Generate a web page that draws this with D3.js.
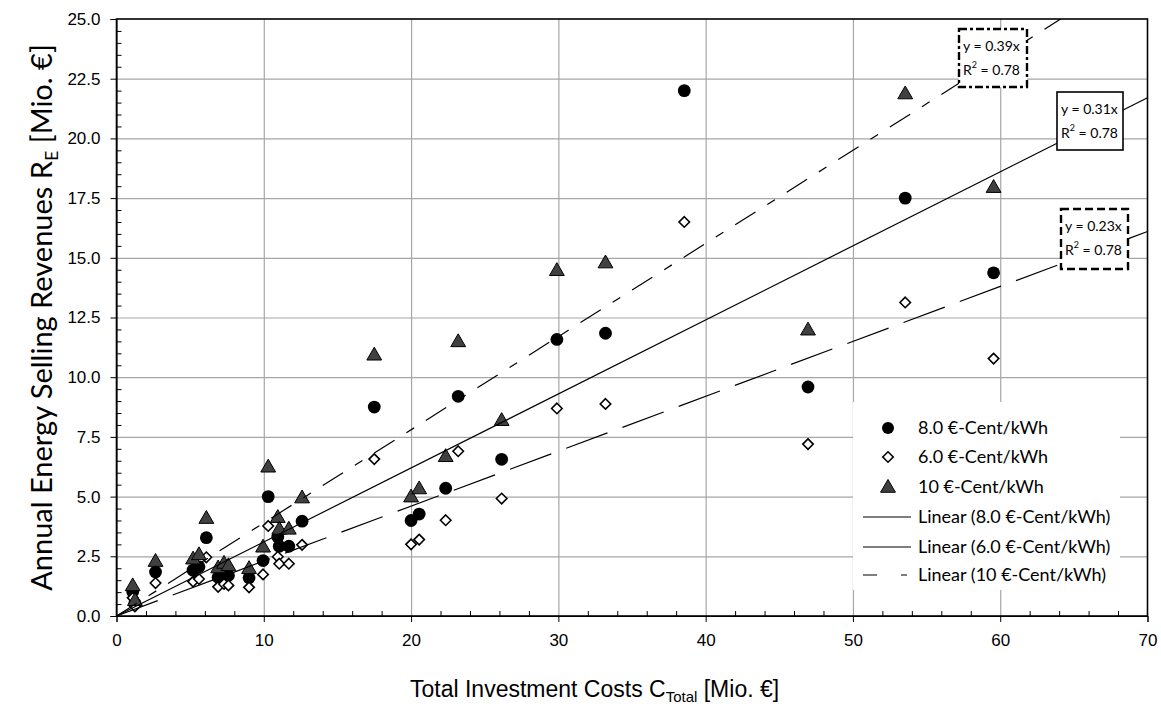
<!DOCTYPE html>
<html>
<head>
<meta charset="utf-8">
<script src="https://cdn.jsdelivr.net/npm/d3@7"></script>
<style>
  body { margin: 0; background: #fff; }
  svg { display: block; }
</style>
</head>
<body>
<script>
// data ___________________________________________________________________________________
var costs = [1.1, 1.25, 2.65, 5.2, 5.6, 6.1, 6.9, 7.3, 7.6, 9.0, 9.95, 10.3, 10.95, 11.05, 11.7, 12.6,
             17.5, 20.0, 20.55, 22.35, 23.2, 26.15, 29.9, 33.2, 38.55, 46.95, 53.55, 59.55];
var rev8  = [1.02, 0.53, 1.84, 1.92, 2.06, 3.28, 1.62, 1.78, 1.7, 1.6, 2.32, 5.0, 3.31, 2.92, 2.92, 3.97,
             8.75, 4.0, 4.27, 5.35, 9.2, 6.56, 11.58, 11.84, 22.0, 9.59, 17.5, 14.37];
var rev6  = [0.76, 0.4, 1.38, 1.44, 1.55, 2.46, 1.22, 1.34, 1.28, 1.2, 1.74, 3.77, 2.48, 2.19, 2.19, 2.98,
             6.57, 3.0, 3.2, 4.01, 6.9, 4.92, 8.69, 8.88, 16.5, 7.2, 13.13, 10.78];
var rev10 = [1.28, 0.66, 2.3, 2.4, 2.58, 4.1, 2.03, 2.22, 2.12, 2.0, 2.9, 6.25, 4.14, 3.65, 3.65, 4.96,
             10.94, 5.0, 5.34, 6.69, 11.5, 8.2, 14.48, 14.8, null, 11.99, 21.88, 17.96];

var seriesNames = ["8.0 €-Cent/kWh", "6.0 €-Cent/kWh", "10 €-Cent/kWh"];
var slopes = [0.31, 0.23, 0.39];
var rSquared = [0.78, 0.78, 0.78];

var xTicks = [0, 10, 20, 30, 40, 50, 60, 70];
var yTicks = [0, 2.5, 5, 7.5, 10, 12.5, 15, 17.5, 20, 22.5, 25];

var ARIAL = "'Liberation Sans', Arial, sans-serif";
var CALIBRI = "Lato, sans-serif";

//Layout__________________________________________________________________________________
var margin = {top: 19, right: 13.5, bottom: 90, left: 116.5};
var W = 1161, H = 706;
var width = W - margin.left - margin.right;
var height = H - margin.top - margin.bottom;

var svg = d3.select("body").append("svg")
    .attr("width", W)
    .attr("height", H);

var g = svg.append("g")
    .attr("transform", "translate(" + margin.left + "," + margin.top + ")");

var x = d3.scaleLinear().domain([0, 70]).range([0, width]);
var y = d3.scaleLinear().domain([0, 25]).range([height, 0]);

svg.append("defs").append("clipPath").attr("id", "plotclip")
    .append("rect").attr("width", width).attr("height", height);

//Grid____________________________________________________________________________________
g.append("g")
    .attr("class", "grid")
    .call(d3.axisLeft(y).tickValues(yTicks.slice(1, -1)).tickSize(-width).tickFormat(""))
    .call(s => s.select(".domain").remove())
    .selectAll("line").attr("stroke", "#a6a6a6").attr("stroke-width", 1.2);

g.append("g")
    .attr("class", "grid")
    .attr("transform", "translate(0," + height + ")")
    .call(d3.axisBottom(x).tickValues(xTicks.slice(1, -1)).tickSize(-height).tickFormat(""))
    .call(s => s.select(".domain").remove())
    .selectAll("line").attr("stroke", "#a6a6a6").attr("stroke-width", 1.2);

//Markers_________________________________________________________________________________
function pts(vals) {
    return costs.map((c, i) => ({x: c, y: vals[i]})).filter(d => d.y != null);
}

var diamond = d3.symbol().type(d3.symbolDiamond2).size(70);
var triangle = d3.symbol().type(d3.symbolTriangle).size(95);

var markers = g.append("g").attr("clip-path", "url(#plotclip)");

markers.selectAll("circle.s8").data(pts(rev8)).enter()
    .append("circle")
    .attr("class", "s8")
    .attr("cx", d => x(d.x))
    .attr("cy", d => y(d.y))
    .attr("r", 6.4)
    .attr("fill", "#000");

markers.selectAll("path.s6").data(pts(rev6)).enter()
    .append("path")
    .attr("class", "s6")
    .attr("d", diamond)
    .attr("transform", d => "translate(" + x(d.x) + "," + y(d.y) + ")")
    .attr("fill", "#fff")
    .attr("stroke", "#000")
    .attr("stroke-width", 1.6);

markers.selectAll("path.s10").data(pts(rev10)).enter()
    .append("path")
    .attr("class", "s10")
    .attr("d", triangle)
    .attr("transform", d => "translate(" + x(d.x) + "," + (y(d.y) + 1) + ")")
    .attr("fill", "#404040")
    .attr("stroke", "#000")
    .attr("stroke-width", 1);

//Trend lines (through origin)______________________________________________________________
var dashes = [null, "44,16", "24,14,9,14"];
var line = d3.line().x(d => x(d[0])).y(d => y(d[1]));

slopes.forEach((k, i) => {
    g.append("path")
        .attr("clip-path", "url(#plotclip)")
        .attr("d", line([[0, 0], [70, 70 * k]]))
        .attr("fill", "none")
        .attr("stroke", "#000")
        .attr("stroke-width", 1.2)
        .attr("stroke-dasharray", dashes[i]);
});

//Axes_____________________________________________________________________________________
var xAxis = g.append("g")
    .attr("transform", "translate(0," + height + ")")
    .call(d3.axisBottom(x).tickValues(xTicks).tickSize(6).tickPadding(12).tickFormat(d3.format("d")));
xAxis.selectAll("text").style("font-family", ARIAL).style("font-size", "17px").attr("fill", "#000");

g.append("g")
    .attr("transform", "translate(0," + height + ")")
    .call(d3.axisBottom(x).tickValues(d3.range(2, 70, 2).filter(v => v % 10)).tickSize(-5).tickFormat(""))
    .call(s => s.select(".domain").remove());

var yAxis = g.append("g")
    .call(d3.axisLeft(y).tickValues(yTicks).tickSize(6).tickPadding(10).tickFormat(d3.format(".1f")));
yAxis.selectAll("text").style("font-family", ARIAL).style("font-size", "17px").attr("fill", "#000");

g.append("g")
    .call(d3.axisLeft(y).tickValues(d3.range(0.5, 25, 0.5).filter(v => v % 2.5)).tickSize(-5).tickFormat(""))
    .call(s => s.select(".domain").remove());

g.selectAll(".tick line").attr("stroke", "#000");
g.selectAll(".grid .tick line").attr("stroke", "#a6a6a6");

// frame
g.append("rect")
    .attr("width", width)
    .attr("height", height)
    .attr("fill", "none")
    .attr("stroke", "#000")
    .attr("stroke-width", 1.6);

//Equation boxes___________________________________________________________________________
var boxes = [
    {x: 1057, y: 92, w: 66, h: 58, dash: null, sw: 1.6},
    {x: 1061, y: 209, w: 67, h: 60, dash: "8,4", sw: 2.4},
    {x: 959, y: 29, w: 68, h: 58, dash: "8,3,3,3", sw: 2.4}
];

boxes.forEach((b, i) => {
    var bg = svg.append("g");
    bg.append("rect")
        .attr("x", b.x).attr("y", b.y).attr("width", b.w).attr("height", b.h)
        .attr("fill", "#fff")
        .attr("stroke", "#000")
        .attr("stroke-width", b.sw)
        .attr("stroke-dasharray", b.dash);
    bg.append("text")
        .attr("x", b.x + 4).attr("y", b.y + 22)
        .style("font-family", CALIBRI).style("font-size", "14px")
        .text("y = " + slopes[i].toFixed(2) + "x");
    var t = bg.append("text")
        .attr("x", b.x + 4).attr("y", b.y + 46)
        .style("font-family", CALIBRI).style("font-size", "14px");
    t.append("tspan").text("R");
    t.append("tspan").style("font-size", "9px").attr("dy", -7).text("2");
    t.append("tspan").attr("dy", 7).text(" = " + rSquared[i].toFixed(2));
});

//Legend___________________________________________________________________________________
var leg = svg.append("g");
leg.append("rect")
    .attr("x", 853).attr("y", 402).attr("width", 267).attr("height", 188)
    .attr("fill", "#fff");

var rowY = [428, 457, 487, 517, 547, 575];
var legendLabels = seriesNames.concat(seriesNames.map(s => "Linear (" + s + ")"));

leg.append("circle").attr("cx", 888).attr("cy", rowY[0]).attr("r", 6).attr("fill", "#000");
leg.append("path").attr("d", diamond).attr("transform", "translate(888," + rowY[1] + ")")
    .attr("fill", "#fff").attr("stroke", "#000").attr("stroke-width", 1.6);
leg.append("path").attr("d", triangle).attr("transform", "translate(888," + (rowY[2] + 1) + ")")
    .attr("fill", "#404040").attr("stroke", "#000");

var legDash = [null, null, "14,24,6,10"];
[3, 4, 5].forEach((r, i) => {
    leg.append("line")
        .attr("x1", 863).attr("x2", 911)
        .attr("y1", rowY[r]).attr("y2", rowY[r])
        .attr("stroke", "#000").attr("stroke-width", 1.2)
        .attr("stroke-dasharray", legDash[i]);
});

leg.selectAll("text.lab").data(legendLabels).enter()
    .append("text")
    .attr("class", "lab")
    .attr("x", 918)
    .attr("y", (d, i) => rowY[i] + 6)
    .style("font-family", CALIBRI)
    .style("font-size", "18px")
    .text(d => d);

//Axis titles______________________________________________________________________________
var xt = svg.append("text")
    .attr("x", 410).attr("y", 697)
    .style("font-family", ARIAL)
    .style("font-size", "23px");
xt.append("tspan").text("Total Investment Costs C");
xt.append("tspan").style("font-size", "15px").attr("dy", 5).text("Total");
xt.append("tspan").attr("dy", -5).text(" [Mio. €]");

var yt = svg.append("text")
    .attr("transform", "translate(52," + (margin.top + height / 2) + ") rotate(-90)")
    .attr("text-anchor", "middle")
    .style("font-family", CALIBRI)
    .style("font-size", "29px");
yt.append("tspan").text("Annual Energy Selling Revenues R");
yt.append("tspan").style("font-size", "18px").attr("dy", 6).text("E");
yt.append("tspan").attr("dy", -6).text(" [Mio. €]");
</script>
</body>
</html>
